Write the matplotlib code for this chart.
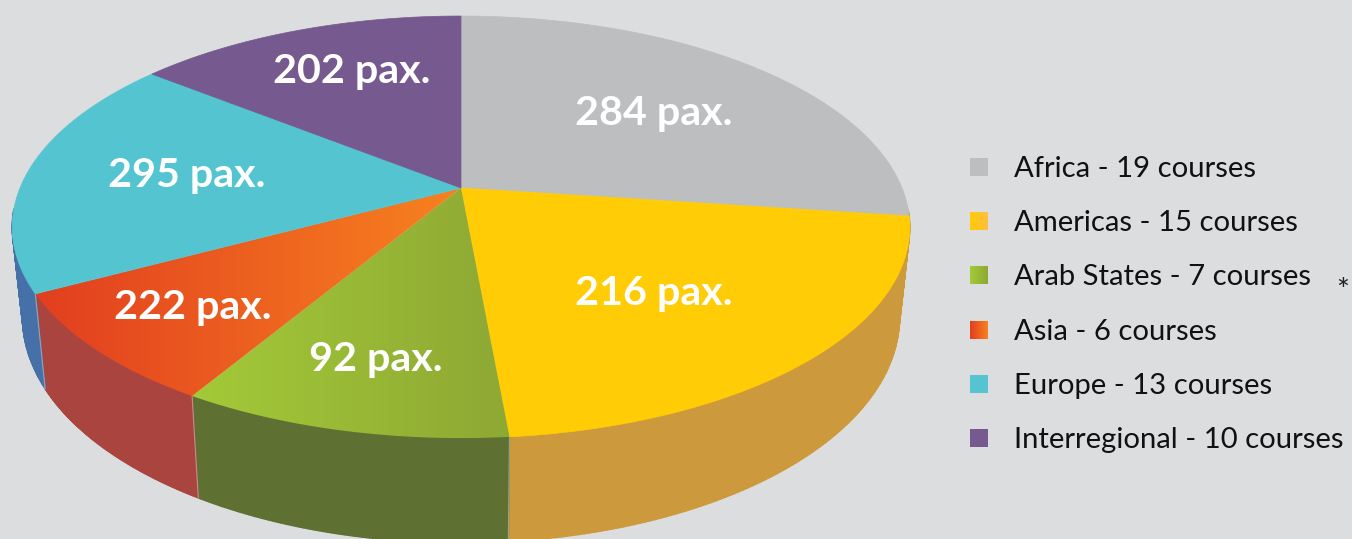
import numpy as np
import matplotlib
matplotlib.use('Agg')
import matplotlib.pyplot as plt
from matplotlib.collections import PolyCollection
from matplotlib.colors import LinearSegmentedColormap
from matplotlib.patches import Polygon, Rectangle

regions = ['Africa', 'Americas', 'Arab States', 'Asia', 'Europe', 'Interregional']
courses = [19, 15, 7, 6, 13, 10]
pax = [284, 216, 92, 222, 295, 202]

top_colors = [('#BDBEC0', '#BDBEC0'), ('#FFCC05', '#FFCC05'), ('#A3CA38', '#8EA834'),
              ('#E23E1F', '#F78220'), ('#54C5D0', '#54C5D0'), ('#75598F', '#75598F')]
swatch_colors = [('#BDBEC0', '#BDBEC0'), ('#FFCC05', '#FFBE40'), ('#A3CA38', '#8EA834'),
                 ('#E23E1F', '#F78220'), ('#54C5D0', '#54C5D0'), ('#75598F', '#75598F')]
side_colors = ['#CD993D', '#CD993D', '#5F7033', '#A9443F', '#4670A8', '#4670A8']
label_pos = [(654, 110), (654, 290), (376, 356), (193, 304), (187, 173), (352, 68)]

BG = '#DCDDDF'
CX, CY = 461, 188
R, H, K = 441, 203.8, 0.185


def top_xy(theta):
    # perspective view of the disc, theta runs clockwise from 12 o'clock
    u, v = np.sin(theta), np.cos(theta)
    d = 1 + K * v
    return CX + R * u / d, CY - H * v / d


def low_xy(theta):
    x, y = top_xy(theta)
    return CX + 0.977 * (x - CX), 1.069 * y + 74.6


def gradient_fill(ax, patch, c0, c1, x0, x1, y0, y1, z):
    cmap = LinearSegmentedColormap.from_list('g', [c0, c1])
    img = ax.imshow(np.linspace(0, 1, 256).reshape(1, -1), cmap=cmap, aspect='auto',
                    extent=(x0, x1, y1, y0), zorder=z, interpolation='bilinear')
    img.set_clip_path(patch)


plt.rcParams['font.family'] = ['Lato', 'DejaVu Sans']
fig = plt.figure(figsize=(13.52, 5.39), dpi=100, facecolor=BG)
ax = fig.add_axes([0, 0, 1, 1])
ax.axis('off')

edges = np.cumsum([0] + courses) / sum(courses) * 2 * np.pi

# sides as thin quads so the outline runs straight from top rim to bottom rim
# only the front part is ever seen, the back would leave a halo round the top
for i in range(len(regions)):
    t = np.linspace(edges[i], edges[i + 1], 120)
    t = t[np.cos(t) < -0.1]
    if len(t) < 2:
        continue
    xt, yt = top_xy(t)
    xl, yl = low_xy(t)
    quads = [[(xt[j], yt[j]), (xt[j + 1], yt[j + 1]), (xl[j + 1], yl[j + 1]), (xl[j], yl[j])]
             for j in range(len(t) - 1)]
    ax.add_collection(PolyCollection(quads, facecolors=side_colors[i], edgecolors=side_colors[i],
                                     linewidths=1.0, zorder=1))

# pale seam where two side colours meet
for e in edges[2:5]:
    xt, yt = top_xy(e)
    xl, yl = low_xy(e)
    ax.plot([xt, xl], [yt, yl], color='#C8C8C0', lw=0.8, alpha=0.6, zorder=1.5)

for i in range(len(regions)):
    t = np.linspace(edges[i], edges[i + 1], 120)
    xt, yt = top_xy(t)
    pts = np.column_stack([np.r_[CX, xt], np.r_[CY, yt]])
    c0, c1 = top_colors[i]
    if c0 == c1:
        ax.add_patch(Polygon(pts, closed=True, fc=c0, ec=c0, lw=0.5, zorder=2))
    else:
        p = Polygon(pts, closed=True, fc='none', ec='none', zorder=2)
        ax.add_patch(p)
        gradient_fill(ax, p, c0, c1, pts[:, 0].min(), pts[:, 0].max(),
                      pts[:, 1].min(), pts[:, 1].max(), 2)
    ax.text(label_pos[i][0], label_pos[i][1] + 3, f'{pax[i]} pax.', color='white', fontsize=29.7,
            fontweight='bold', ha='center', va='center', zorder=4)

# legend
for i, name in enumerate(regions):
    yc = 167 + i * 54.2
    c0, c1 = swatch_colors[i]
    box = Rectangle((970, yc - 9), 18, 18, fc=c0, ec='none', zorder=2)
    ax.add_patch(box)
    if c0 != c1:
        gradient_fill(ax, box, c0, c1, 970, 988, yc - 9, yc + 9, 3)
    ax.text(1014, yc + 2, f'{name} - {courses[i]} courses', color='#111111', fontsize=21.1,
            ha='left', va='center', zorder=4)
ax.text(1343, 291, '*', color='#222222', fontsize=22, ha='center', va='center')

ax.set_xlim(0, 1352)
ax.set_ylim(539, 0)
fig.savefig('out.png', dpi=100, facecolor=BG)
